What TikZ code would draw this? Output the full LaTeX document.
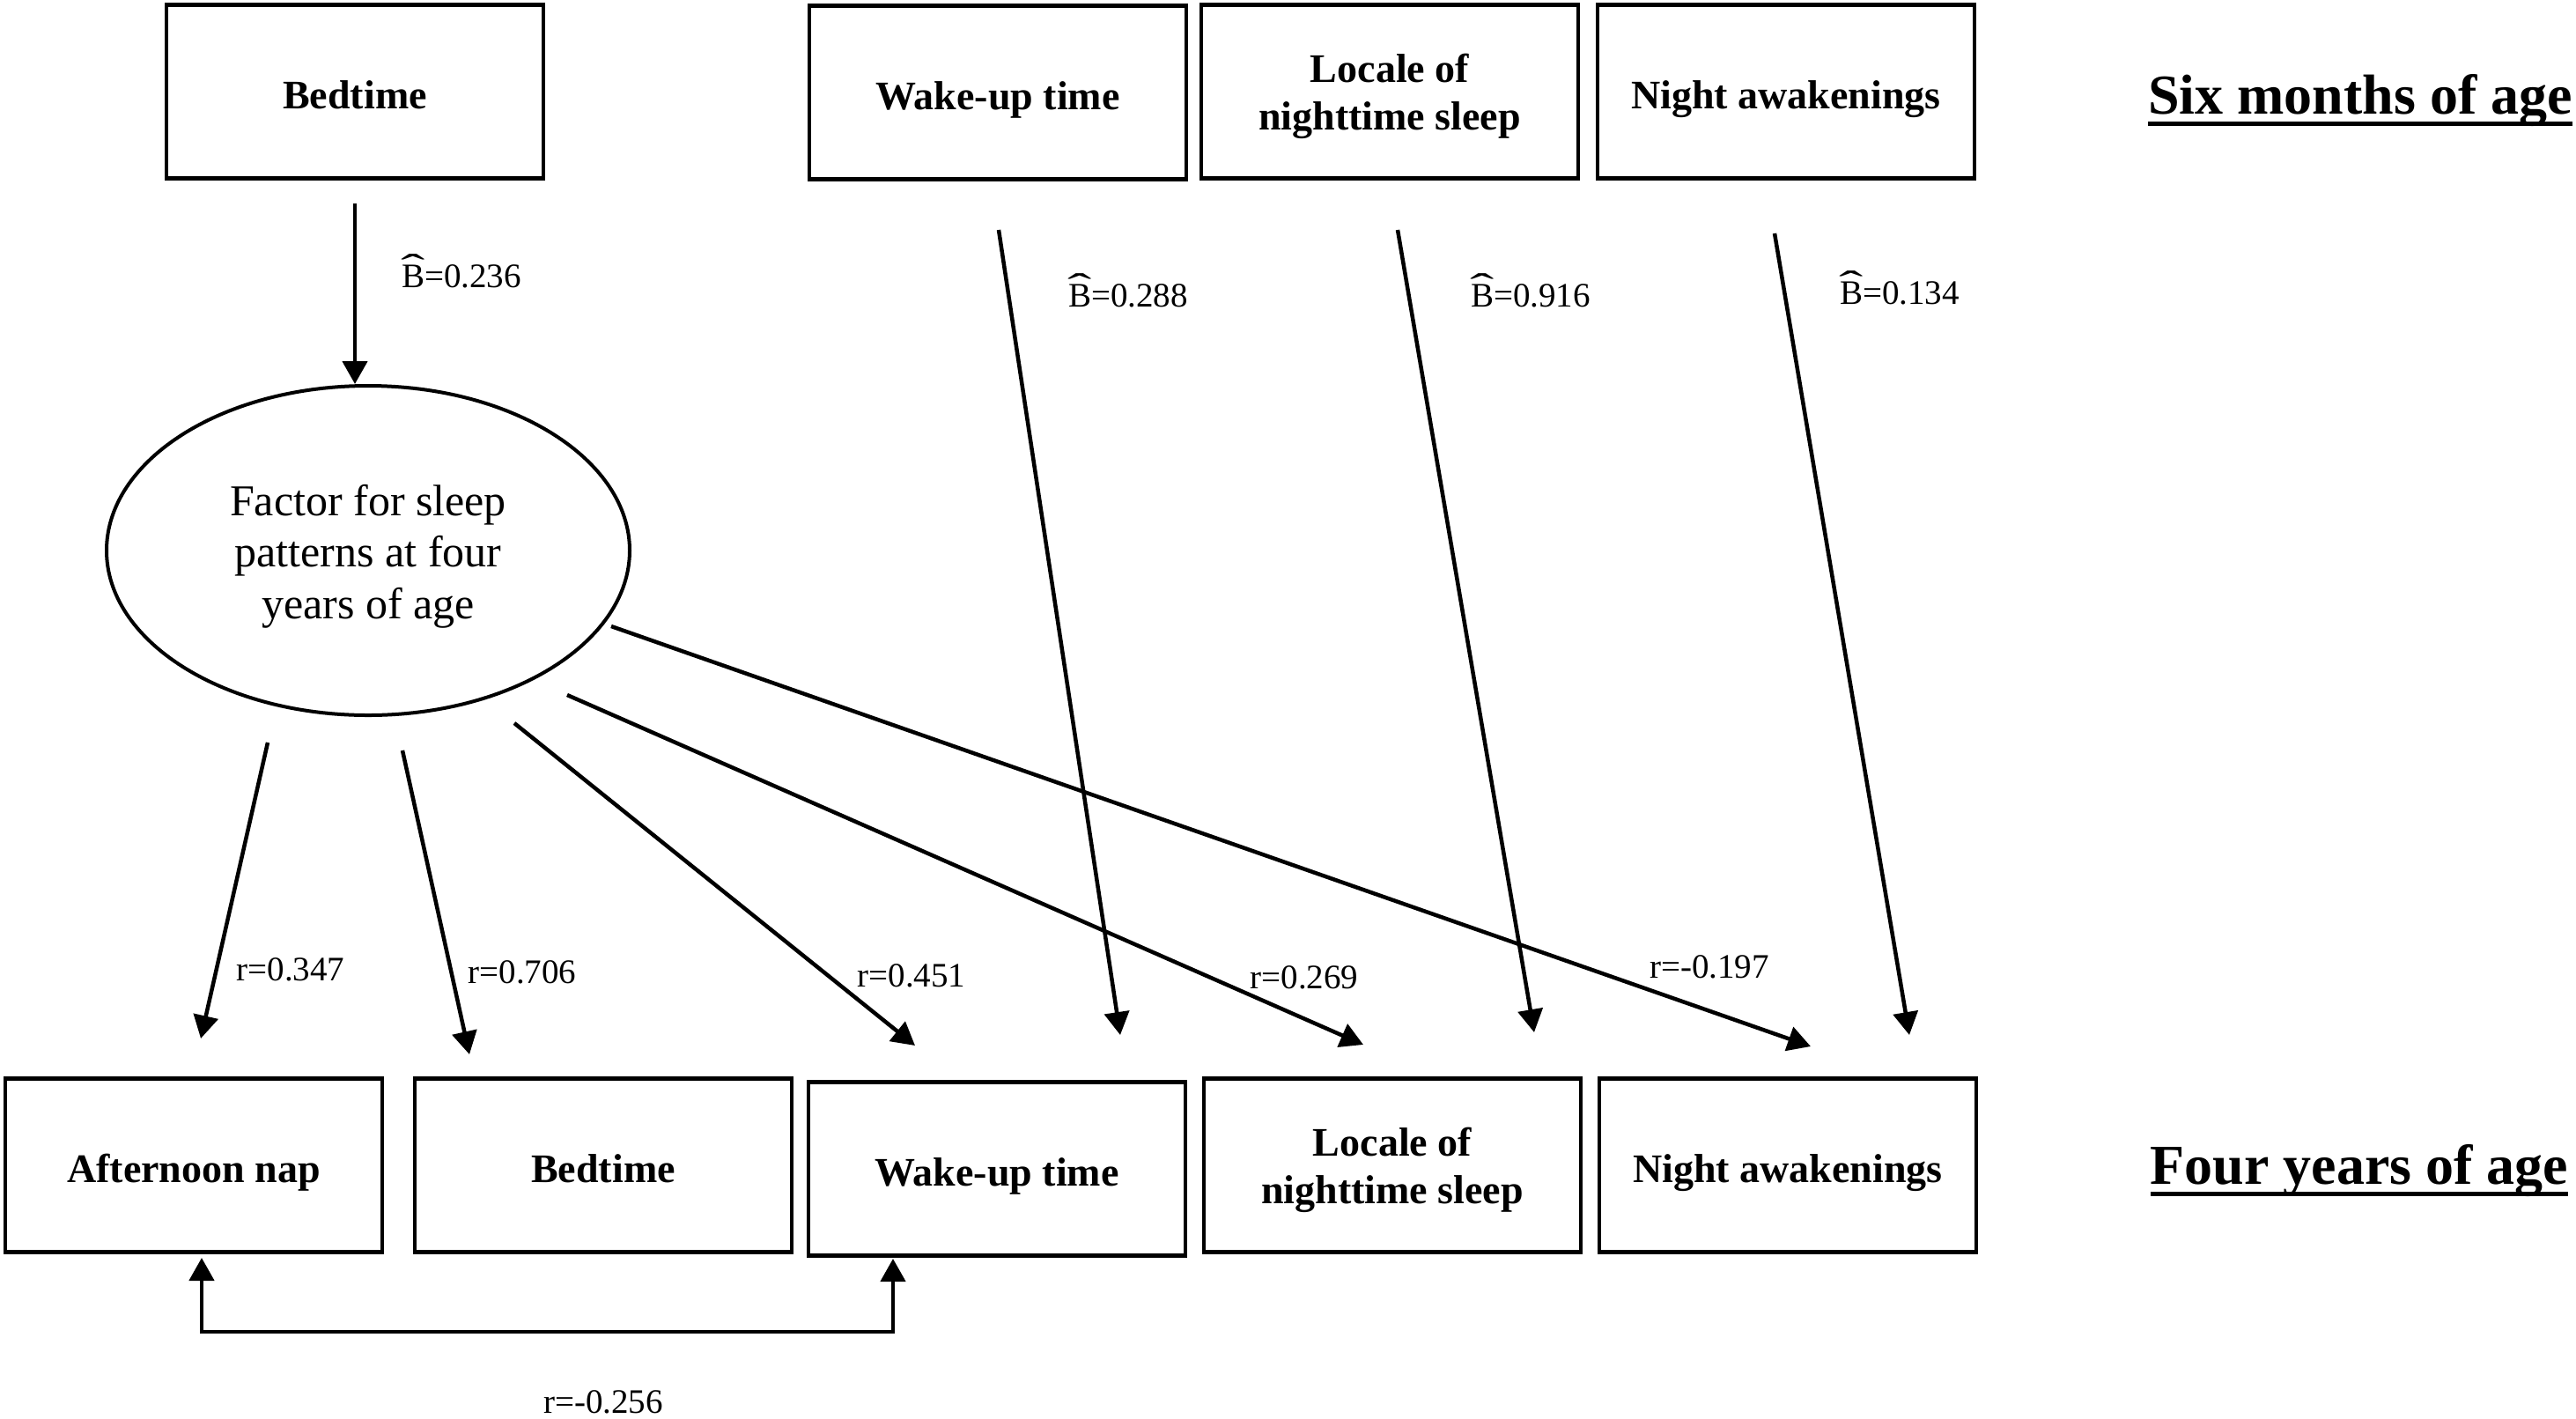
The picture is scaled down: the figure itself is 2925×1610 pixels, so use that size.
\documentclass[tikz,border=0pt]{standalone}
\usepackage{graphicx}
\usepackage{fontspec}
\setmainfont{Liberation Serif}
\usetikzlibrary{arrows.meta,shapes.geometric,calc}
\newcommand\myul[1]{\setbox0\hbox{#1}\rlap{\rule[-13.5pt]{\wd0}{5pt}}\box0}
\newcommand\hatB{\ooalign{B\cr\hidewidth\raisebox{0.2em}{\scalebox{2.1}[1.1]{\char"02C6}}\hidewidth\cr}}
\begin{document}
\begin{tikzpicture}[x=1pt,y=-1pt,
  box/.style={draw, line width=4.5pt, minimum width=428pt, minimum height=197pt, inner sep=0pt, align=center,
    text height=38pt, text depth=0pt, font=\fontsize{46}{54}\selectfont\bfseries},
  box2/.style={box, text height=100pt, text depth=14pt},
  fac/.style={draw, ellipse, line width=4pt, minimum width=594pt, minimum height=374pt, inner sep=0pt, align=center,
    text height=162pt, text depth=8pt, font=\fontsize{50}{58.5}\selectfont},
  lab/.style={inner sep=0pt, font=\fontsize{39}{46}\selectfont},
  title/.style={inner sep=0pt, anchor=base, font=\fontsize{64}{72}\selectfont\bfseries},
  conn/.style={line width=4.5pt, -{Triangle[length=26pt,width=28pt]}},
  dconn/.style={line width=4.5pt, {Triangle[length=26pt,width=28pt]}-{Triangle[length=26pt,width=28pt]}}]
\fill[white] (0,0) rectangle (2925,1610);
\useasboundingbox (0,0) rectangle (2925,1610);

% top row (six months)
\node[box] (tbed) at (403,104) {Bedtime};
\node[box] (twake) at (1133,105) {Wake-up time};
\node[box2] (tloc) at (1578,104) {Locale of\\nighttime sleep};
\node[box] (tnight) at (2028,104) {Night awakenings};
\node[title] (tsix) at (2680,129) {\myul{Six months of age}};

% factor
\node[fac] (fac) at (418,625) {Factor for sleep\\patterns at four\\years of age};

% bottom row (four years)
\node[box] (bnap) at (220,1323) {Afternoon nap};
\node[box] (bbed) at (685,1323) {Bedtime};
\node[box] (bwake) at (1132,1327) {Wake-up time};
\node[box2] (bloc) at (1581,1323) {Locale of\\nighttime sleep};
\node[box] (bnight) at (2030,1323) {Night awakenings};
\node[title] (tfour) at (2679,1344) {\myul{Four years of age}};

% connector end points
\coordinate (a0) at ($(tbed.south)+(0,26)$);
\coordinate (a1s) at (1134,261); \coordinate (a1e) at (1272,1175);
\coordinate (a2s) at (1587,261); \coordinate (a2e) at (1742,1172);
\coordinate (a3s) at (2015,265); \coordinate (a3e) at (2168,1175);
\coordinate (f1s) at (304,843); \coordinate (f1e) at (228,1179);
\coordinate (f2s) at (457,852); \coordinate (f2e) at (533,1197);
\coordinate (f3s) at (584,821); \coordinate (f3e) at (1039,1187);
\coordinate (f4s) at (644,789); \coordinate (f4e) at (1548,1186);
\coordinate (f5s) at (694,711); \coordinate (f5e) at (2056,1188);
\coordinate (c1) at (229,1428);
\coordinate (c2) at (1014,1429);

\draw[conn] (a0) -- (a0 |- fac.north);
\draw[conn] (a1s) -- (a1e);
\draw[conn] (a2s) -- (a2e);
\draw[conn] (a3s) -- (a3e);
\draw[conn] (f1s) -- (f1e);
\draw[conn] (f2s) -- (f2e);
\draw[conn] (f3s) -- (f3e);
\draw[conn] (f4s) -- (f4e);
\draw[conn] (f5s) -- (f5e);
\draw[dconn] (c1) -- (229,1512) -- (1014,1512) -- (c2);

% labels
\node[lab] (l1) at (524,314) {\hatB=0.236};
\node[lab] (l2) at (1281,336) {\hatB=0.288};
\node[lab] (l3) at (1738,336) {\hatB=0.916};
\node[lab] (l4) at (2157,333) {\hatB=0.134};
\node[lab] (r1) at (330,1101) {r=0.347};
\node[lab] (r2) at (593,1104) {r=0.706};
\node[lab] (r3) at (1035,1108) {r=0.451};
\node[lab] (r4) at (1481,1110) {r=0.269};
\node[lab] (r5) at (1941,1098) {r=-0.197};
\node[lab] (r6) at (685,1592) {r=-0.256};
\end{tikzpicture}
\end{document}
